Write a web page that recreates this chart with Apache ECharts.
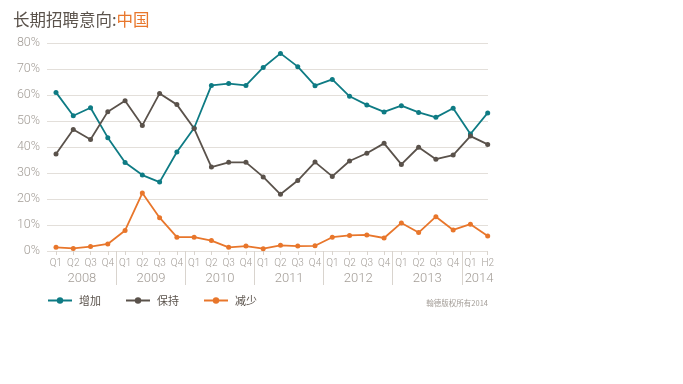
<!DOCTYPE html>
<html><head><meta charset="utf-8">
<script src="https://cdn.jsdelivr.net/npm/echarts@6/dist/echarts.min.js"></script>
<style>html,body{margin:0;padding:0;background:#fff}#c{width:683px;height:384px}</style>
</head><body><div id="c"></div>
<script>
const quarterLabels = ['Q1','Q2','Q3','Q4','Q1','Q2','Q3','Q4','Q1','Q2','Q3','Q4','Q1','Q2','Q3','Q4','Q1','Q2','Q3','Q4','Q1','Q2','Q3','Q4','Q1','H2'];
const yearLabels = ['2008','2009','2010','2011','2012','2013','2014'];
const yearSpans = [4,4,4,4,4,4,2];
const increase = [61.0,52.0,55.1,43.6,34.0,29.2,26.5,38.1,47.3,63.7,64.4,63.7,70.6,76.0,70.9,63.6,66.0,59.5,56.2,53.5,55.9,53.3,51.4,54.9,45.0,53.1];
const keep =     [37.3,46.7,42.9,53.6,57.8,48.3,60.6,56.3,47.1,32.3,34.1,34.1,28.5,21.8,27.1,34.2,28.7,34.6,37.6,41.4,33.3,39.9,35.3,36.9,44.2,41.0];
const decrease = [1.4,1.0,1.7,2.7,7.9,22.3,12.8,5.3,5.3,4.0,1.4,1.9,0.9,2.2,1.9,2.0,5.3,6.0,6.2,5.0,10.8,7.1,13.2,8.1,10.3,5.8];
const seriesNames = ['增加','保持','减少'];
const yTicks = [0,10,20,30,40,50,60,70,80];

// build categories (points) and boundaries (between points) for year labels / separators
const categories = [];
const boundaries = [];   // boundary i sits half a step before point i
const yearAt = {};       // boundary index -> year label (centre of its span)
const yearStart = {};    // boundary index -> separator
let idx = 0;
yearLabels.forEach((y, i) => {
  const span = yearSpans[i];
  if (idx > 0) yearStart[idx] = true;
  yearAt[idx + span/2] = y;
  for (let k = 0; k < span; k++) { categories.push(y + ' ' + quarterLabels[idx]); boundaries.push('b' + idx); idx++; }
});

const C = ['#0e7b84','#5a524b','#e8762b'];
const FONT = 'Roboto, "Noto Sans CJK SC", sans-serif';
const CJK = '"Noto Sans CJK SC", sans-serif';
const chart = echarts.init(document.getElementById('c'), null, {renderer:'canvas'});
const band = 17.268;
chart.setOption({
  animation: false,
  title: [{
    left: 8, top: 6,
    text: '{a|长期招聘意向:}{b|中国}',
    textStyle: { fontWeight: 'normal', rich: {
      a: { fontSize: 16.5, color: '#5a524b', fontFamily: CJK, fontWeight: 'normal' },
      b: { fontSize: 16.5, color: '#e8762b', fontFamily: CJK, fontWeight: 'normal' }
    }}
  },{
    right: 190, top: 294,
    text: '翰德版权所有2014',
    textStyle: { fontSize: 7.5, color: '#a39d97', fontWeight: 'normal', fontFamily: CJK }
  }],
  legend: {
    left: 42, top: 290,
    itemWidth: 24, itemHeight: 8, itemGap: 24,
    textStyle: { fontSize: 11, color: '#5a524b', fontFamily: CJK, padding:[0,0,0,2] },
    data: seriesNames
  },
  grid: [
    { left: 56 - band/2, width: band*26, top: 43, bottom: 133 },
    { left: 47, right: 195, top: 43, bottom: 133 },
    { left: 56 - band/2, width: band*25, top: 43, bottom: 133 }
  ],
  xAxis: [{
    type: 'category', gridIndex: 0, data: categories, boundaryGap: true, position: 'bottom',
    axisLine: { show: false },
    axisTick: { show: true, alignWithLabel: true, length: 4, lineStyle: { color: '#d9d4ce' } },
    axisLabel: { margin: 7, fontSize: 10, color: '#a39d97', fontFamily: FONT, fontWeight: 300,
      interval: 0, formatter: (v, i) => quarterLabels[i] }
  },{
    type: 'value', gridIndex: 1, min: 0, max: 1, show: false
  },{
    type: 'category', gridIndex: 2, data: boundaries, boundaryGap: false, position: 'bottom',
    axisLine: { show: false },
    axisTick: { show: true, length: 34, lineStyle: { color: '#d9d4ce' },
      interval: (i) => !!yearStart[i] },
    axisLabel: { margin: 21, fontSize: 13, color: '#a39d97', fontFamily: FONT, fontWeight: 300,
      interval: (i) => yearAt[i] !== undefined, formatter: (v, i) => yearAt[i] || '' }
  }],
  yAxis: [{
    type: 'value', gridIndex: 0, min: 0, max: 80, interval: 10, show: false
  },{
    type: 'value', gridIndex: 1, min: yTicks[0], max: yTicks[yTicks.length-1], interval: 10,
    axisLine: { show: false }, axisTick: { show: false },
    axisLabel: { margin: 7, fontSize: 12.5, color: '#a39d97', fontFamily: FONT, fontWeight: 300, formatter: '{value}%' },
    splitLine: { lineStyle: { color: '#e3dfda', width: 1 } }
  },{
    type: 'value', gridIndex: 2, min: 0, max: 1, show: false
  }],
  series: [increase, keep, decrease].map((d, i) => ({
    name: seriesNames[i], type: 'line', xAxisIndex: 0, yAxisIndex: 0, data: d,
    symbol: 'circle', symbolSize: 5, showSymbol: true,
    lineStyle: { color: C[i], width: 1.8 }, itemStyle: { color: C[i] }
  }))
});
</script></body></html>
